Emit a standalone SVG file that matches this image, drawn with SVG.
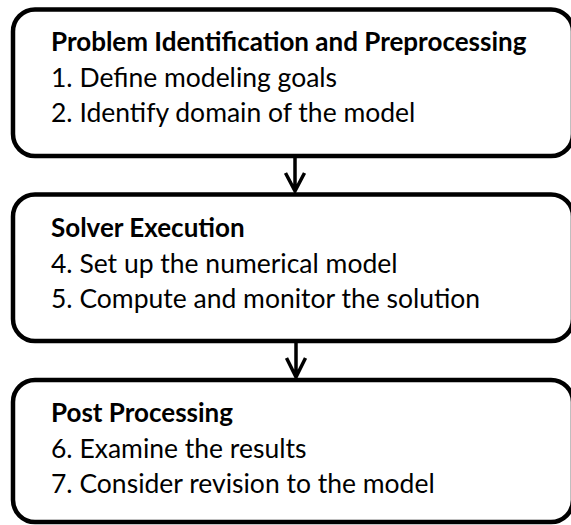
<svg xmlns="http://www.w3.org/2000/svg" width="571" height="525" viewBox="0 0 571 525">
<style>
.box{fill:#fff;stroke:#000;stroke-width:4.5}
.t{font-family:Lato,"Open Sans","Liberation Sans",sans-serif;font-size:26.5px;fill:#000}
.h{font-weight:bold;font-size:26px}
.c{stroke:#000;stroke-width:3.5;fill:none}
</style>
<rect width="571" height="525" fill="#fff"/>
<g id="n1">
<rect class="box" x="13" y="9.5" width="560" height="146.5" rx="22"/>
<text class="t h" x="51" y="51">Problem Identification and Preprocessing</text>
<text class="t" x="51" y="87">1. Define modeling goals</text>
<text class="t" x="51" y="122">2. Identify domain of the model</text>
</g>
<g id="n2">
<rect class="box" x="13" y="194.5" width="560" height="146.5" rx="22"/>
<text class="t h" x="51" y="237">Solver Execution</text>
<text class="t" x="51" y="273">4. Set up the numerical model</text>
<text class="t" x="51" y="308">5. Compute and monitor the solution</text>
</g>
<g id="n3">
<rect class="box" x="13" y="380" width="560" height="142" rx="22"/>
<text class="t h" x="51" y="422">Post Processing</text>
<text class="t" x="51" y="458">6. Examine the results</text>
<text class="t" x="51" y="493">7. Consider revision to the model</text>
</g>
<g id="connectors">
<path class="c" d="M295 156V191M285.5 173L295 191L304.5 173"/>
<path class="c" d="M296 341V377M286.5 358L296 377L305.5 358"/>
</g>
</svg>
